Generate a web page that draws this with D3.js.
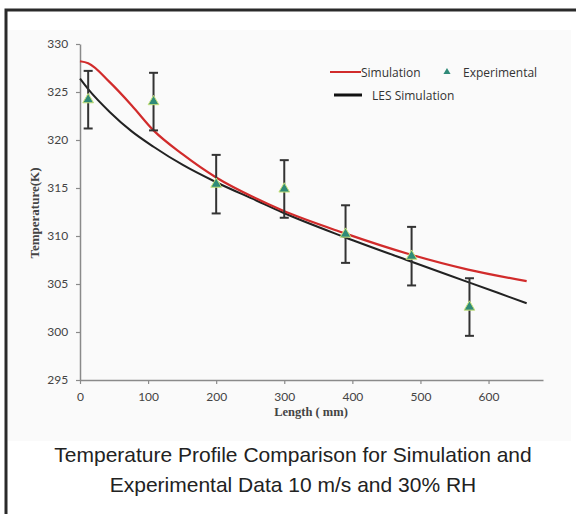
<!DOCTYPE html>
<html>
<head>
<meta charset="utf-8">
<script src="https://cdn.jsdelivr.net/npm/d3@7"></script>
<style>
  body { margin: 0; background: #fff; }
</style>
</head>
<body>
<div id="chart"></div>
<script>
/* DATA */
const simX = [0, 12, 44, 76, 108, 151, 200, 259, 296, 388, 484, 570, 656];
const simT = [328.2, 328.0, 326.0, 323.6, 321.0, 318.5, 316.1, 313.9, 312.7, 310.3, 308.1, 306.5, 305.3];
const lesX = [0, 12, 44, 76, 108, 151, 200, 259, 296, 388, 484, 570, 656];
const lesT = [326.4, 325.3, 322.9, 320.9, 319.3, 317.4, 315.6, 313.7, 312.5, 309.9, 307.4, 305.2, 303.0];
const expX = [12, 108, 200, 300, 390, 487, 572];
const expT = [324.2, 324.0, 315.4, 314.9, 310.2, 307.9, 302.6];
const expErr = [3, 3, 3.05, 3, 3, 3.05, 3];
const xTicks = [0, 100, 200, 300, 400, 500, 600];
const yTicks = [295, 300, 305, 310, 315, 320, 325, 330];

/* CONSTANTS */
const width = 576, height = 514;
const margin = { top: 44, bottom: 134, left: 80, right: 33 };

const svg = d3.select("#chart")
  .append("svg")
  .attr("width", width)
  .attr("height", height);

// frame + light panel
svg.append("rect")
  .attr("x", 8).attr("y", 30)
  .attr("width", 563).attr("height", 411)
  .attr("fill", "#fafafa");

svg.append("path")
  .attr("d", "M6,520 L6,10 L580,10")
  .attr("fill", "none")
  .attr("stroke", "#2a2a2a")
  .attr("stroke-width", 3);

// + SCALES
const xScale = d3.scaleLinear()
  .domain([0, 680])
  .range([margin.left, width - margin.right]);

const yScale = d3.scaleLinear()
  .domain([295, 330])
  .range([height - margin.bottom, margin.top]);

// + AXES
const xAxis = d3.axisBottom(xScale).tickValues(xTicks).tickSize(4).tickSizeOuter(0);
const yAxis = d3.axisLeft(yScale).tickValues(yTicks).tickSize(4).tickSizeOuter(0);

const xAxisGroup = svg.append("g")
  .attr("transform", `translate(0, ${yScale(295)})`)
  .call(xAxis);

const yAxisGroup = svg.append("g")
  .attr("transform", `translate(${xScale(0)}, 0)`)
  .call(yAxis);

[xAxisGroup, yAxisGroup].forEach(g => {
  g.select(".domain").attr("stroke", "#8a8a8a").attr("stroke-width", 1.5);
  g.selectAll(".tick line").attr("stroke", "#8a8a8a").attr("stroke-width", 1.2);
  g.selectAll(".tick text")
    .attr("fill", "#444")
    .attr("font-family", "Lato, 'Open Sans', sans-serif")
    .attr("font-size", 12);
});
xAxisGroup.selectAll(".tick text").attr("dy", "1.15em");
yAxisGroup.selectAll(".tick text").attr("dx", "-0.4em");

// axis titles
svg.append("text")
  .attr("x", 311)
  .attr("y", 416)
  .attr("text-anchor", "middle")
  .attr("font-family", "'Liberation Serif', serif")
  .attr("font-weight", "bold")
  .attr("font-size", 12.5)
  .attr("fill", "#444")
  .text("Length ( mm)");

svg.append("text")
  .attr("transform", "translate(39, 213) rotate(-90)")
  .attr("text-anchor", "middle")
  .attr("font-family", "'Liberation Serif', serif")
  .attr("font-weight", "bold")
  .attr("font-size", 13)
  .attr("fill", "#444")
  .text("Temperature(K)");

// + LINES
const line = d3.line()
  .x(d => xScale(d[0]))
  .y(d => yScale(d[1]))
  .curve(d3.curveMonotoneX);

svg.append("path")
  .datum(lesX.map((x, i) => [x, lesT[i]]))
  .attr("d", line)
  .attr("fill", "none")
  .attr("stroke", "#222")
  .attr("stroke-width", 2);

svg.append("path")
  .datum(simX.map((x, i) => [x, simT[i]]))
  .attr("d", line)
  .attr("fill", "none")
  .attr("stroke", "#d12b2b")
  .attr("stroke-width", 2.2);

// + ERROR BARS
const expData = expX.map((x, i) => ({ x, t: expT[i], e: expErr[i] }));

const bars = svg.append("g")
  .selectAll("g")
  .data(expData)
  .join("g")
  .attr("stroke", "#333")
  .attr("stroke-width", 2);

bars.append("line")
  .attr("x1", d => xScale(d.x)).attr("x2", d => xScale(d.x))
  .attr("y1", d => yScale(d.t - d.e)).attr("y2", d => yScale(d.t + d.e));
bars.append("line")
  .attr("x1", d => xScale(d.x) - 4.5).attr("x2", d => xScale(d.x) + 4.5)
  .attr("y1", d => yScale(d.t + d.e)).attr("y2", d => yScale(d.t + d.e));
bars.append("line")
  .attr("x1", d => xScale(d.x) - 4.5).attr("x2", d => xScale(d.x) + 4.5)
  .attr("y1", d => yScale(d.t - d.e)).attr("y2", d => yScale(d.t - d.e));

// + TRIANGLES
const tri = d3.symbol().type(d3.symbolTriangle).size(50);
svg.append("g")
  .selectAll("path")
  .data(expData)
  .join("path")
  .attr("d", tri)
  .attr("transform", d => `translate(${xScale(d.x)}, ${yScale(d.t)})`)
  .attr("fill", "#2f8a78")
  .attr("stroke", "#c9e27a")
  .attr("stroke-width", 1);

// + LEGEND
const legend = svg.append("g")
  .attr("font-family", "'Open Sans', sans-serif")
  .attr("font-size", 12)
  .attr("fill", "#333");

legend.append("line")
  .attr("x1", 330).attr("x2", 361).attr("y1", 72).attr("y2", 72)
  .attr("stroke", "#d12b2b").attr("stroke-width", 2);
legend.append("text").attr("x", 361).attr("y", 76.5).text("Simulation");

legend.append("path")
  .attr("d", d3.symbol().type(d3.symbolTriangle).size(22))
  .attr("transform", "translate(447, 72)")
  .attr("fill", "#2f8a78");
legend.append("text").attr("x", 463).attr("y", 76.5).text("Experimental");

legend.append("line")
  .attr("x1", 334).attr("x2", 362).attr("y1", 95).attr("y2", 95)
  .attr("stroke", "#111").attr("stroke-width", 3);
legend.append("text").attr("x", 372).attr("y", 99.5).text("LES Simulation");

// + CAPTION
const caption = svg.append("text")
  .attr("text-anchor", "middle")
  .attr("font-family", "'Liberation Sans', Arial, sans-serif")
  .attr("font-size", 21)
  .attr("fill", "#222");
caption.append("tspan").attr("x", 293).attr("y", 461.5)
  .text("Temperature Profile Comparison for Simulation and");
caption.append("tspan").attr("x", 293).attr("y", 491.5)
  .text("Experimental Data 10 m/s and 30% RH");
</script>
</body>
</html>
